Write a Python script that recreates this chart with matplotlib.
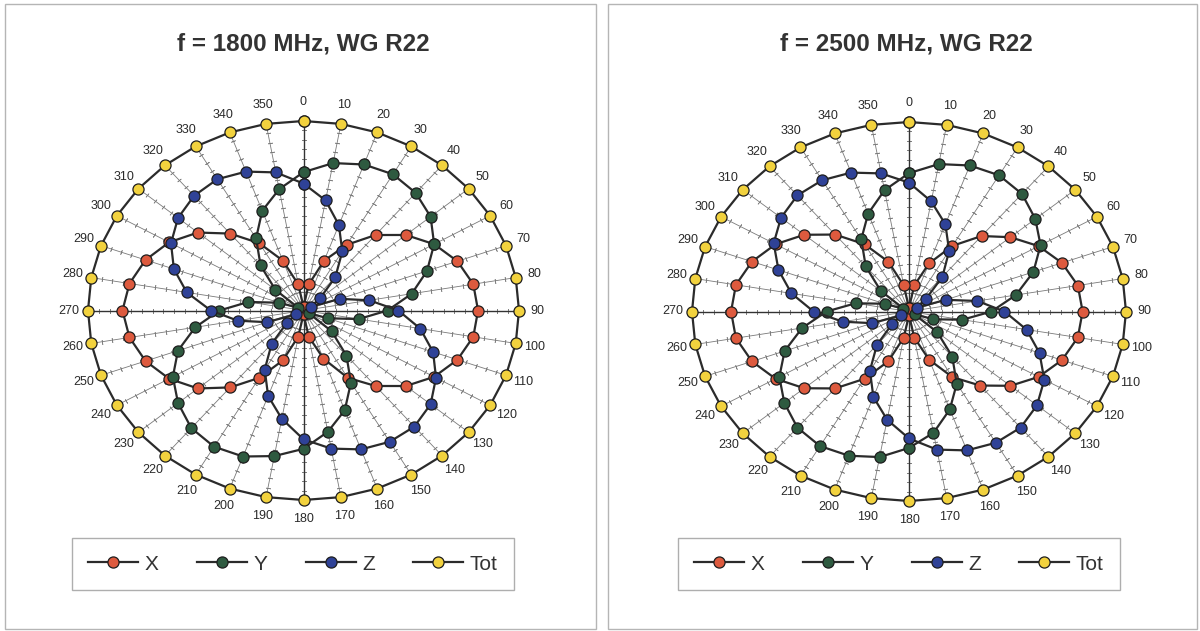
import numpy as np
import matplotlib
matplotlib.use("Agg")
import matplotlib.pyplot as plt
from matplotlib.patches import Rectangle

plt.rcParams["font.family"] = ["Liberation Sans", "DejaVu Sans"]

# angles of the probe rotation (degrees)
angles = list(range(0, 360, 10))

titles = ["f = 1800 MHz, WG R22", "f = 2500 MHz, WG R22"]
series_names = ["X", "Y", "Z", "Tot"]

# f = 1800 MHz
x_1800 = [0.02, 0.14, 0.28, 0.40, 0.52, 0.62, 0.70, 0.76, 0.80, 0.81,
          0.80, 0.76, 0.70, 0.62, 0.52, 0.41, 0.27, 0.14, 0.02, 0.14,
          0.28, 0.41, 0.53, 0.64, 0.72, 0.78, 0.82, 0.84, 0.82, 0.78,
          0.72, 0.64, 0.53, 0.41, 0.28, 0.14]
y_1800 = [0.73, 0.79, 0.82, 0.83, 0.81, 0.77, 0.70, 0.61, 0.51, 0.39,
          0.26, 0.12, 0.03, 0.17, 0.31, 0.44, 0.56, 0.65, 0.73, 0.78,
          0.82, 0.83, 0.81, 0.76, 0.70, 0.62, 0.51, 0.39, 0.26, 0.12,
          0.03, 0.17, 0.31, 0.44, 0.56, 0.65]
z_1800 = [0.67, 0.59, 0.48, 0.36, 0.23, 0.10, 0.04, 0.18, 0.31, 0.44,
          0.55, 0.64, 0.71, 0.77, 0.80, 0.80, 0.78, 0.74, 0.68, 0.58,
          0.48, 0.36, 0.23, 0.10, 0.04, 0.18, 0.31, 0.43, 0.55, 0.64,
          0.71, 0.76, 0.79, 0.80, 0.78, 0.74]
tot_1800 = [1.0] * 36

# f = 2500 MHz
x_2500 = [0.02, 0.14, 0.27, 0.40, 0.52, 0.61, 0.69, 0.75, 0.79, 0.80,
          0.79, 0.75, 0.69, 0.61, 0.51, 0.40, 0.27, 0.14, 0.02, 0.14,
          0.28, 0.41, 0.53, 0.63, 0.71, 0.77, 0.81, 0.82, 0.81, 0.77,
          0.71, 0.63, 0.53, 0.41, 0.28, 0.14]
y_2500 = [0.73, 0.79, 0.82, 0.83, 0.81, 0.76, 0.70, 0.61, 0.50, 0.38,
          0.25, 0.12, 0.03, 0.17, 0.31, 0.44, 0.55, 0.65, 0.72, 0.78,
          0.81, 0.82, 0.80, 0.75, 0.69, 0.61, 0.50, 0.38, 0.25, 0.12,
          0.03, 0.17, 0.31, 0.44, 0.55, 0.65]
z_2500 = [0.68, 0.59, 0.49, 0.37, 0.24, 0.10, 0.04, 0.18, 0.32, 0.44,
          0.55, 0.64, 0.72, 0.77, 0.80, 0.80, 0.78, 0.74, 0.67, 0.58,
          0.48, 0.36, 0.23, 0.10, 0.04, 0.18, 0.31, 0.44, 0.55, 0.64,
          0.72, 0.77, 0.80, 0.80, 0.78, 0.74]
tot_2500 = [1.0] * 36

colors = ["#dd5a3e", "#2e5a40", "#2f4297", "#f2d23e"]


def draw_panel(ax, data):
    ax.set_theta_zero_location("N")
    ax.set_theta_direction(-1)
    ax.set_aspect("auto")
    ax.set_ylim(0, 1.0)
    ax.set_yticks([])
    ax.spines["polar"].set_visible(False)
    ax.set_thetagrids(angles, labels=[str(a) for a in angles])
    ax.tick_params(axis="x", pad=3, labelsize=9, labelcolor="#2a2a2a")
    for a, gl in zip(angles, ax.xaxis.get_gridlines()):
        if a % 90 == 0:
            gl.set_color("#333333")
            gl.set_linewidth(1.0)
            gl.set_linestyle("-")
        else:
            gl.set_color("#7a7a7a")
            gl.set_linewidth(0.6)
            gl.set_linestyle("-")

    # small tick marks along every spoke (excel radar style)
    rr = np.arange(0.05, 0.96, 0.05)
    for a in angles:
        ax.scatter(np.full(rr.shape, np.deg2rad(a)), rr,
                   marker=(2, 2, 90 - a), s=9, color="#808080",
                   linewidths=0.5, zorder=1)

    theta = np.deg2rad(angles + [angles[0]])
    handles = []
    for vals, col, name in zip(data, colors, series_names):
        h, = ax.plot(theta, vals + [vals[0]], color="#2b2b2b", lw=1.6,
                     marker="o", ms=8, mfc=col, mec="#1e1e1e", mew=0.9,
                     label=name, clip_on=False, zorder=3)
        handles.append(h)
    return handles


fig = plt.figure(figsize=(12, 6.31), dpi=100)

# panel frames
fig.add_artist(Rectangle((5 / 1200, 2 / 631), 591 / 1200, 625 / 631,
                         transform=fig.transFigure, fill=False,
                         edgecolor="#b5b5b5", lw=1))
fig.add_artist(Rectangle((608 / 1200, 2 / 631), 589 / 1200, 625 / 631,
                         transform=fig.transFigure, fill=False,
                         edgecolor="#b5b5b5", lw=1))

panels = [
    ([88 / 1200, 131 / 631, 431 / 1200, 379 / 631],
     [x_1800, y_1800, z_1800, tot_1800], 303, 0.244),
    ([692 / 1200, 130 / 631, 434 / 1200, 379 / 631],
     [x_2500, y_2500, z_2500, tot_2500], 906, 0.749),
]

for i, (rect, data, tx, lx) in enumerate(panels):
    ax = fig.add_axes(rect, projection="polar")
    handles = draw_panel(ax, data)
    fig.text(tx / 1200, 1 - 44 / 631, titles[i], ha="center", va="center",
             fontsize=17.5, fontweight="bold", color="#333333")
    leg = fig.legend(handles=handles, loc="center", ncol=4,
                     bbox_to_anchor=(lx, 1 - 564 / 631), fontsize=15,
                     frameon=True, fancybox=False, edgecolor="#9a9a9a",
                     handlelength=2.4, handletextpad=0.3, columnspacing=1.85,
                     borderpad=0.8)
    leg.get_frame().set_linewidth(1.0)
    for t in leg.get_texts():
        t.set_color("#333333")

fig.savefig("out.png", dpi=100)
